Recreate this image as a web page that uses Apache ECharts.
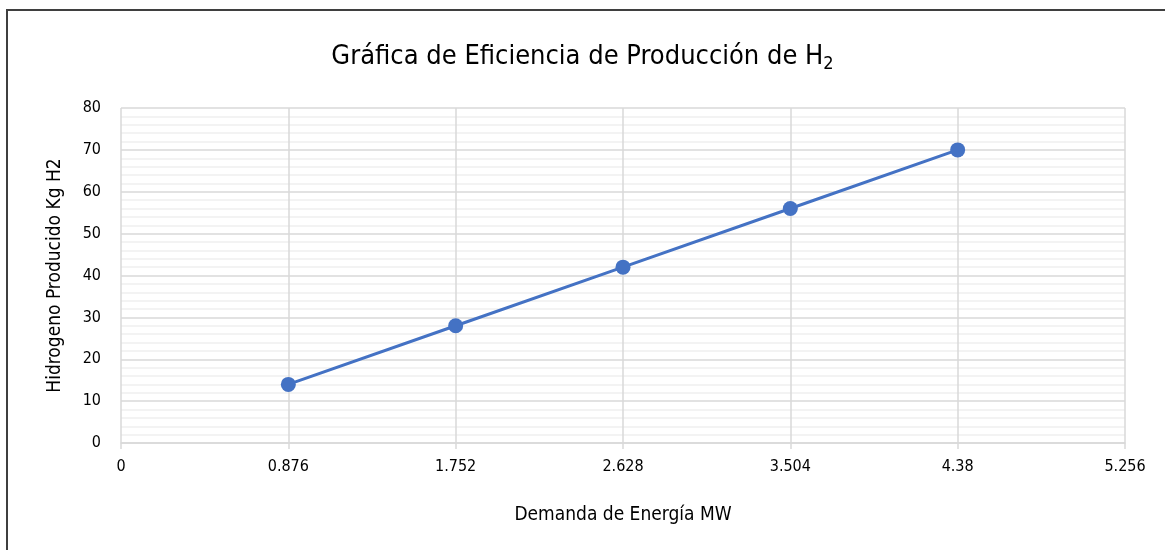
<!DOCTYPE html>
<html>
<head>
<meta charset="utf-8">
<script src="https://cdn.jsdelivr.net/npm/echarts@6/dist/echarts.min.js"></script>
<style>
  html, body { margin: 0; padding: 0; background: #fff; overflow: hidden; }
  #chart { position: absolute; left: 0; top: 0; width: 1165px; height: 550px; }
  #frame { position: absolute; left: 6px; top: 9px; width: 1300px; height: 700px;
           border: 2px solid #3f3f3f; box-sizing: border-box; pointer-events: none; }
</style>
</head>
<body>
<div id="chart"></div>
<div id="frame"></div>
<script>
(function() {
  var font = '"Liberation Sans Narrow", "DejaVu Sans Condensed", "Roboto", sans-serif';
  var blue = '#4472c4';

  // --- data ---
  var demandaMW = [0.876, 1.752, 2.628, 3.504, 4.38];
  var hidrogenoKg = [14, 28, 42, 56, 70];

  var points = demandaMW.map(function(x, i) { return [x, hidrogenoKg[i]]; });

  var chart = echarts.init(document.getElementById('chart'), null, { renderer: 'canvas' });
  chart.setOption({
    animation: false,
    title: {
      text: '{t|Gráfica de Eficiencia de Producción de H}{s|2}',
      left: 'center',
      top: 36,
      textStyle: {
        fontWeight: 'normal',
        rich: {
          t: { fontFamily: font, fontSize: 27, fontWeight: 'normal', color: '#000' },
          s: { fontFamily: font, fontSize: 18, fontWeight: 'normal', color: '#000', padding: [14, 0, 0, 0] }
        }
      }
    },
    grid: { left: 121, right: 40, top: 108, bottom: 107 },
    xAxis: {
      type: 'value',
      min: 0,
      max: 5.256,
      interval: 0.876,
      name: 'Demanda de Energía MW',
      nameLocation: 'middle',
      nameGap: 63,
      nameTextStyle: { fontFamily: font, fontSize: 19, color: '#000' },
      axisLine: { show: true, lineStyle: { color: '#d9d9d9', width: 1.5 } },
      axisTick: { show: true, length: 6, lineStyle: { color: '#d9d9d9', width: 1.5 } },
      axisLabel: {
        fontFamily: font, fontSize: 16, color: '#000', margin: 16,
        formatter: function(v) { return String(parseFloat(v.toFixed(3))); }
      },
      splitLine: { show: true, lineStyle: { color: '#d9d9d9', width: 1.5 } }
    },
    yAxis: {
      type: 'value',
      min: 0,
      max: 80,
      interval: 10,
      name: 'Hidrogeno Producido Kg H2',
      nameLocation: 'middle',
      nameGap: 56,
      nameTextStyle: { fontFamily: font, fontSize: 19, color: '#000' },
      axisLine: { show: false },
      axisTick: { show: false },
      axisLabel: { fontFamily: font, fontSize: 16, color: '#000', margin: 20 },
      splitLine: { show: true, lineStyle: { color: '#d9d9d9', width: 1.5 } },
      minorTick: { show: false, splitNumber: 5 },
      minorSplitLine: { show: true, lineStyle: { color: '#efefef', width: 1.5 } }
    },
    series: [{
      type: 'line',
      data: points,
      symbol: 'circle',
      symbolSize: 15,
      lineStyle: { color: blue, width: 3 },
      itemStyle: { color: blue }
    }]
  });
  window.addEventListener('resize', function() { chart.resize(); });
})();
</script>
</body>
</html>
